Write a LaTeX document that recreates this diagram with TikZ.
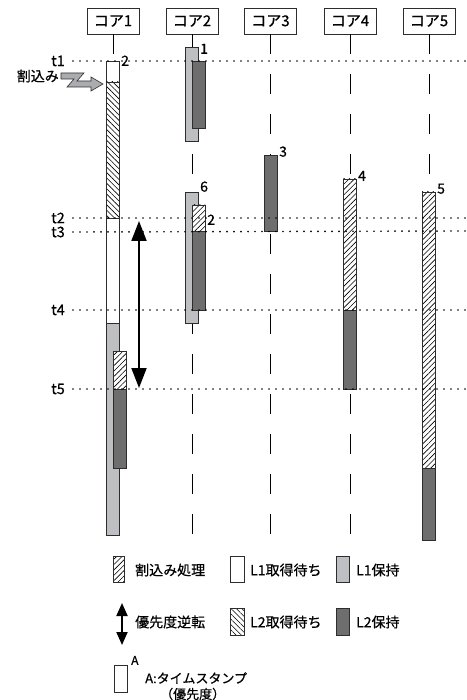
\documentclass[tikz,border=0pt]{standalone}
\usepackage{fontspec}
\setmainfont{Noto Sans CJK JP}[FakeBold=0.6]
\usetikzlibrary{arrows.meta,patterns.meta}
\definecolor{lgray}{RGB}{190,191,195}
\definecolor{dgray}{RGB}{110,110,110}
\definecolor{edge}{RGB}{45,45,45}
\begin{document}
\begin{tikzpicture}[x=1pt,y=-1pt,
  hdr/.style={draw=edge, line width=0.7pt, minimum width=52pt, minimum height=26pt, font=\fontsize{15}{15}\selectfont, inner sep=0pt},
  life/.style={draw=black, line width=0.8pt, dash pattern=on 20pt off 20pt},
  bar/.style={draw=edge, line width=0.8pt},
  wbar/.style={bar, fill=white},
  lone/.style={bar, fill=lgray},
  ltwo/.style={bar, fill=dgray},
  intr/.style={bar, preaction={fill=white}, pattern={Lines[angle=45,distance=3.8pt,line width=0.6pt]}},
  ltwow/.style={bar, preaction={fill=white}, pattern={Lines[angle=-45,distance=3.8pt,line width=0.6pt]}},
  dotline/.style={line width=1.9pt, line cap=round, dash pattern=on 0pt off 7pt},
  tlab/.style={anchor=east, font=\fontsize{14.5}{14.5}\selectfont, inner sep=0pt},
  num/.style={anchor=south west, font=\fontsize{14}{14}\selectfont, inner sep=0pt},
  txt/.style={anchor=west, font=\fontsize{14}{14}\selectfont, inner sep=0pt},
  dblarrow/.style={line width=2pt, {Triangle[width=15pt,length=20pt]}-{Triangle[width=15pt,length=20pt]}},
]
\useasboundingbox (0,0) rectangle (466,700);

% headers
\node[hdr] (h1) at (113,21) {コア1};
\node[hdr] (h2) at (192,21) {コア2};
\node[hdr] (h3) at (270.5,21) {コア3};
\node[hdr] (h4) at (350,21) {コア4};
\node[hdr] (h5) at (429,21) {コア5};

% lifelines
\coordinate (e1) at (113,534);
\coordinate (e2) at (192,534);
\coordinate (e3) at (270.5,534);
\coordinate (e4) at (350,534);
\coordinate (e5) at (429,534);
\draw[life] (h1.south) -- (e1);
\draw[life] (h2.south) -- (e2);
\draw[life] (h3.south) -- (e3);
\draw[life] (h4.south) -- (e4);
\draw[life] (h5.south) -- (e5);

% core 1
\draw[wbar] (106,61) rectangle (119,82);
\draw[ltwow] (106,82) rectangle (119,218);
\draw[wbar] (106,218) rectangle (119,323);
\draw[lone] (106,323) rectangle (119,535);
\draw[intr] (113,351) rectangle (126,389);
\draw[ltwo] (113,389) rectangle (126,468);
\node[num] (n1) at (121,66) {2};

% core 2
\draw[lone] (185,47) rectangle (198,141);
\draw[ltwo] (192,61) rectangle (205,128);
\node[num] (n2) at (200,54) {1};
\draw[lone] (185,192) rectangle (198,323);
\draw[intr] (192,205) rectangle (205,231);
\draw[ltwo] (192,231) rectangle (205,310);
\node[num] (n3) at (200,192) {6};
\node[num] (n4) at (207,225) {2};

% core 3
\draw[ltwo] (264,155) rectangle (277,231);
\node[num] (n5) at (279,157) {3};

% core 4
\draw[intr] (343,179) rectangle (356,310);
\draw[ltwo] (343,310) rectangle (356,389);
\node[num] (n6) at (358,181) {4};

% core 5
\draw[intr] (422,192) rectangle (435,468);
\draw[ltwo] (422,468) rectangle (435,540);
\node[num] (n7) at (437,194) {5};

% time lines
\node[tlab] (t1) at (65,61) {t1};
\node[tlab] (t2) at (65,218) {t2};
\node[tlab] (t3) at (65,232) {t3};
\node[tlab] (t4) at (65,310) {t4};
\node[tlab] (t5) at (65,389) {t5};
\coordinate (r1) at (466,61);
\coordinate (r2) at (466,218);
\coordinate (r3) at (466,231);
\coordinate (r4) at (466,310);
\coordinate (r5) at (466,389);
\draw[dotline] ([xshift=8pt]t1.east) -- (r1);
\draw[dotline] ([xshift=8pt]t2.east) -- (r2);
\draw[dotline] ([xshift=8pt]t3.east) -- (r3);
\draw[dotline] ([xshift=8pt]t4.east) -- (r4);
\draw[dotline] ([xshift=8pt]t5.east) -- (r5);

% interrupt
\node[anchor=east, font=\fontsize{14}{14}\selectfont, inner sep=0pt] (irq) at (59,76) {割込み};
\draw[fill=lgray!70!gray, draw=edge, line width=0.6pt]
  (61,73) -- (84,73) -- (77,81) -- (91,81) -- (91,77) -- (103,84) -- (91,91) -- (91,87) -- (67,87) -- (74,79) -- (61,79) -- cycle;

% priority inversion arrow
\coordinate (pa) at (139,221);
\coordinate (pb) at (139,388);
\draw[dblarrow] (pa) -- (pb);

% legend
\draw[intr] (113,556) rectangle (124,582);
\node[txt] (lg1) at (135,570) {割込み処理};
\draw[wbar] (230,556) rectangle (244,582);
\node[txt] (lg2) at (250,570) {L1取得待ち};
\draw[lone] (336,556) rectangle (349,582);
\node[txt] (lg3) at (356,570) {L1保持};

\coordinate (la) at (122,603);
\coordinate (lb) at (122,645);
\draw[line width=2pt, {Triangle[width=11pt,length=13pt]}-{Triangle[width=11pt,length=13pt]}] (la) -- (lb);
\node[txt] (lg4) at (135,622) {優先度逆転};
\draw[ltwow] (230,608) rectangle (244,635);
\node[txt] (lg5) at (250,622) {L2取得待ち};
\draw[ltwo] (336,608) rectangle (349,635);
\node[txt] (lg6) at (356,622) {L2保持};

\draw[wbar] (114,665) rectangle (127,692);
\node[anchor=south west, font=\fontsize{12}{12}\selectfont, inner sep=0pt] (lgA) at (131,665) {A};
\node[anchor=west, font=\fontsize{13}{13}\selectfont, inner sep=0pt] (lg7) at (145,678) {A:タイムスタンプ};
\node[anchor=west, font=\fontsize{13}{13}\selectfont, inner sep=0pt] (lg8) at (160,694) {（優先度）};
\end{tikzpicture}
\end{document}
